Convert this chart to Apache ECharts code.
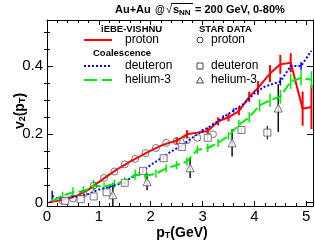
<!DOCTYPE html>
<html><head><meta charset="utf-8">
<script src="https://cdn.jsdelivr.net/npm/echarts@6/dist/echarts.min.js"></script>
<style>html,body{margin:0;padding:0;background:#fff}#c{width:315px;height:245px}</style>
</head><body><div id="c"></div>
<script>
// iEBE-VISHNU proton (model)
var protonModelX = [0.05,0.2,0.4,0.6,0.8,0.9,1.0,1.2,1.4,1.6,1.8,2.0,2.2,2.35,2.5,2.7,2.9,3.1,3.3,3.5,3.7,3.9,4.07,4.3,4.5,4.7,4.93,5.1];
var protonModelY = [0.002,0.005,0.011,0.022,0.038,0.05,0.06,0.082,0.102,0.12,0.136,0.152,0.167,0.175,0.181,0.2,0.205,0.21,0.238,0.25,0.268,0.31,0.336,0.378,0.405,0.41,0.275,0.28];
var protonModelE = [0,0,0,0,0,0,0,0,0,0,0,0,0,0,0.01,0.012,0,0.01,0.012,0.012,0.012,0.015,0.02,0.025,0.028,0.028,0.05,0.065];
// Coalescence deuteron (model)
var deutModelX = [0.1,0.2,0.4,0.6,0.8,1.0,1.2,1.4,1.6,1.8,2.0,2.2,2.4,2.6,2.8,3.0,3.2,3.4,3.6,3.8,4.0,4.2,4.5,4.7,4.9,5.1];
var deutModelY = [0.02,0.012,0.014,0.018,0.025,0.038,0.046,0.055,0.07,0.088,0.11,0.13,0.15,0.168,0.19,0.21,0.228,0.25,0.27,0.29,0.32,0.34,0.355,0.40,0.40,0.445];
var deutModelE = [0.015,0,0,0,0,0,0.006,0,0,0,0,0,0,0,0,0.006,0.006,0.006,0.006,0,0,0,0.012,0,0.012,0];
// Coalescence helium-3 (model)
var he3ModelX = [0.1,0.3,0.5,0.7,0.9,1.1,1.3,1.5,1.7,1.9,2.1,2.3,2.5,2.7,2.9,3.1,3.3,3.5,3.7,3.9,4.1,4.3,4.5,4.7,4.9,5.1];
var he3ModelY = [0.005,0.02,0.03,0.033,0.05,0.047,0.055,0.062,0.082,0.078,0.085,0.10,0.11,0.12,0.155,0.16,0.175,0.195,0.228,0.25,0.285,0.30,0.31,0.355,0.365,0.36];
var he3ModelE = [0.006,0.012,0.015,0.015,0.017,0.012,0.012,0.012,0.015,0.012,0.012,0.012,0.012,0.012,0.012,0.012,0.012,0.012,0.015,0.015,0.018,0.02,0.02,0.022,0.022,0.025];
// STAR data
var protonDataX = [0.3,0.5,0.7,0.9,1.1,1.3,1.5,1.7,1.9,2.1,2.3,2.5,2.7,2.9,3.2];
var protonDataY = [0.006,0.012,0.025,0.05,0.072,0.091,0.112,0.128,0.145,0.16,0.175,0.18,0.183,0.19,0.2];
var deutDataX = [0.35,0.65,0.9,1.15,1.5,1.85,2.25,2.6,3.1,3.75,4.25];
var deutDataY = [0.005,0.01,0.018,0.03,0.058,0.093,0.13,0.163,0.19,0.213,0.205];
var deutDataE = [0,0,0,0,0.005,0.008,0.006,0.006,0.008,0.008,0.02];
var he3DataX = [1.27,1.93,2.76,3.57,4.46];
var he3DataY = [0.023,0.061,0.102,0.175,0.277];
var he3DataE = [0.035,0.025,0.03,0.04,0.07];
// axis ticks
var xTicks = [0,1,2,3,4,5];
var yTicks = [0,0.2,0.4];
var yMinorTicks = [0.05,0.1,0.15,0.25,0.3,0.35,0.45,0.5];

function pts(X,Y){return X.map(function(x,i){return [x,Y[i]];});}
function errPts(X,Y,E){var o=[];X.forEach(function(x,i){if(E[i]>0)o.push([x,Y[i],E[i]]);});return o;}
function errSeries(data,color,w){
  return {type:'custom',clip:true,silent:true,z:3,data:data,
    renderItem:function(p,api){
      var x=api.value(0),y=api.value(1),e=api.value(2);
      var lo=api.coord([x,y-e]),hi=api.coord([x,y+e]);
      return {type:'line',shape:{x1:lo[0],y1:lo[1],x2:hi[0],y2:hi[1]},style:{stroke:color,lineWidth:w}};
    }};
}
var FF='"Liberation Sans", Arial, sans-serif';
var chart = echarts.init(document.getElementById('c'),null,{renderer:'canvas'});
var yBase = {type:'value',min:-0.01,max:0.535,splitLine:{show:false},axisLine:{show:false},axisLabel:{show:false},axisTick:{show:false}};
function yAx(pos,major,labels){
  var a = JSON.parse(JSON.stringify(yBase));
  a.position=pos;
  a.axisTick={show:true,inside:true,length:major?6:3,customValues:major?yTicks:yMinorTicks,lineStyle:{color:'#000',width:1}};
  if(major){a.axisLine={show:true,onZero:false,lineStyle:{color:'#000',width:1}};}
  if(labels){a.axisLabel={show:true,customValues:yTicks,fontFamily:FF,fontSize:15,color:'#000',margin:4,
    formatter:function(v){return v===0?'0':v.toFixed(1);}};}
  return a;
}
function xAx(pos,labels){
  return {type:'value',position:pos,min:0,max:5.13,interval:1,splitLine:{show:false},
    axisLine:{show:true,onZero:false,lineStyle:{color:'#000',width:1}},
    axisTick:{show:true,inside:true,length:5,lineStyle:{color:'#000'}},
    minorTick:{show:true,splitNumber:5,length:3,lineStyle:{color:'#000'}},
    axisLabel:{show:labels,fontFamily:FF,fontSize:15,color:'#000',margin:3}};
}
function T(x,y,s,size,bold,extra){
  var st={text:s,verticalAlign:'middle',fontFamily:FF,fontSize:size,fontWeight:bold?'bold':'normal',fill:'#000'};
  if(extra){for(var k in extra)st[k]=extra[k];}
  return {type:'text',x:x,y:y,style:st,z:10};
}
chart.setOption({
  animation:false,
  grid:{left:47,right:2,top:20,bottom:39,containLabel:false},
  xAxis:[xAx('bottom',true),xAx('top',false)],
  yAxis:[yAx('left',true,true),yAx('left',false,false),yAx('right',true,false),yAx('right',false,false)],
  series:[
    {type:'line',data:pts(protonModelX,protonModelY),showSymbol:false,symbol:'none',lineStyle:{color:'#ff0000',width:2},z:4},
    errSeries(errPts(protonModelX,protonModelY,protonModelE),'#ff0000',2),
    {type:'line',data:pts(deutModelX,deutModelY),showSymbol:false,symbol:'none',lineStyle:{color:'#0000ff',width:2,type:[2,2]},z:4},
    errSeries(errPts(deutModelX,deutModelY,deutModelE),'#0000ff',1.5),
    {type:'line',data:pts(he3ModelX,he3ModelY),showSymbol:false,symbol:'none',lineStyle:{color:'#00ee00',width:2,type:[10,4]},z:4},
    errSeries(errPts(he3ModelX,he3ModelY,he3ModelE),'#00ee00',1.5),
    {type:'scatter',data:pts(protonDataX,protonDataY),symbol:'circle',symbolSize:7,itemStyle:{color:'rgba(0,0,0,0)',borderColor:'#555',borderWidth:1},z:5},
    errSeries(errPts(deutDataX,deutDataY,deutDataE),'#222',1.2),
    {type:'scatter',data:pts(deutDataX,deutDataY),symbol:'rect',symbolSize:7,itemStyle:{color:'#fff',borderColor:'#555',borderWidth:1},z:5},
    errSeries(errPts(he3DataX,he3DataY,he3DataE),'#111',1.5),
    {type:'scatter',data:pts(he3DataX,he3DataY),symbol:'triangle',symbolSize:8,itemStyle:{color:'#fff',borderColor:'#555',borderWidth:1},z:5}
  ],
  graphic:[
    T(115,10,'Au+Au',11,true),
    T(155,10,'@',10,true),
    T(166,10,'√',11,false),
    T(173,10,'s',11,true),
    T(179,13,'NN',8,true),
    T(195,10,'= 200 GeV, 0-80%',11,true),
    {type:'line',shape:{x1:171,y1:3.5,x2:193,y2:3.5},style:{stroke:'#000',lineWidth:1}},
    {type:'text',x:20,y:111,rotation:Math.PI/2,style:{text:'v{sub|2}(p{sub|T})',align:'center',verticalAlign:'middle',
      fontFamily:FF,fontWeight:'bold',fontSize:14,fill:'#000',rich:{sub:{fontFamily:FF,fontWeight:'bold',fontSize:9,fill:'#000',padding:[6,0,0,0]}}}},
    {type:'text',x:182,y:233,style:{text:'p{sub|T}(GeV)',align:'center',verticalAlign:'middle',
      fontFamily:FF,fontWeight:'bold',fontSize:14,fill:'#000',rich:{sub:{fontFamily:FF,fontWeight:'bold',fontSize:9,fill:'#000',padding:[6,0,0,0]}}}},
    T(101,29,'iEBE-VISHNU',9.5,true),
    T(93,53,'Coalescence',9.5,true),
    T(199,29,'STAR DATA',9.5,true),
    {type:'line',shape:{x1:84,y1:40,x2:112,y2:40},style:{stroke:'#ff0000',lineWidth:2}},
    {type:'line',shape:{x1:84,y1:66,x2:112,y2:66},style:{stroke:'#0000ff',lineWidth:2,lineDash:[2,2]}},
    {type:'line',shape:{x1:84,y1:80,x2:112,y2:80},style:{stroke:'#00ee00',lineWidth:2,lineDash:[13,5]}},
    T(125,40,'proton',12,false),
    T(125,66,'deuteron',12,false),
    T(125,80,'helium-3',12,false),
    {type:'circle',shape:{cx:200,cy:40,r:3},style:{fill:'none',stroke:'#444',lineWidth:1}},
    {type:'rect',shape:{x:197,y:63,width:6,height:6},style:{fill:'none',stroke:'#444',lineWidth:1}},
    {type:'polygon',shape:{points:[[200,77],[203.5,83],[196.5,83]]},style:{fill:'none',stroke:'#444',lineWidth:1}},
    T(211,40,'proton',12,false),
    T(211,66,'deuteron',12,false),
    T(211,80,'helium-3',12,false)
  ]
});
</script></body></html>
